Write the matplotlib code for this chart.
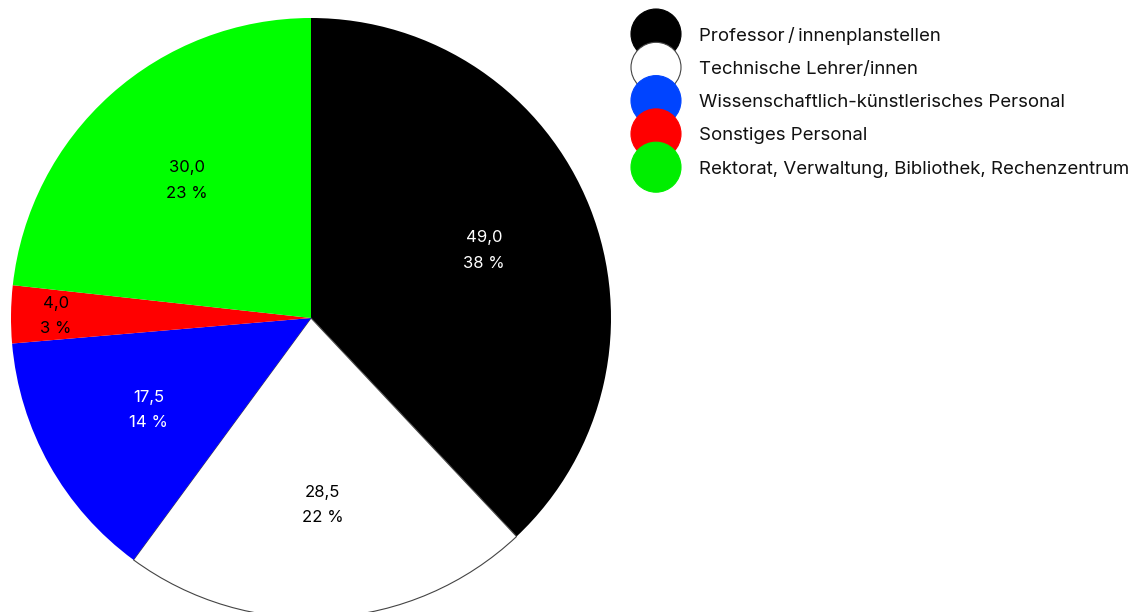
import numpy as np
import matplotlib
matplotlib.use("Agg")
import matplotlib.pyplot as plt
from matplotlib.patches import Circle

plt.rcParams["font.family"] = ["Inter", "DejaVu Sans"]

# data
categories = ["Professor\u2009/\u2009innenplanstellen", "Technische Lehrer/innen",
              "Wissenschaftlich-künstlerisches Personal", "Sonstiges Personal",
              "Rektorat, Verwaltung, Bibliothek, Rechenzentrum"]
values = [49.0, 28.5, 17.5, 4.0, 30.0]
value_labels = ["49,0", "28,5", "17,5", "4,0", "30,0"]
pct_labels = ["38 %", "22 %", "14 %", "3 %", "23 %"]
pie_colors = ["#000000", "#ffffff", "#0000ff", "#ff0000", "#00ff00"]
legend_colors = ["#000000", "#ffffff", "#0044ff", "#ff0000", "#00ee00"]
text_colors = ["white", "black", "white", "black", "black"]
label_dist = [0.62, 0.62, 0.62, 0.85, 0.62]

W, H = 1133, 612
fig = plt.figure(figsize=(W / 100, H / 100), dpi=100)
ax = fig.add_axes([0, 0, 1, 1])

cx, cy, r = 311, H - 318, 300
wedges, _ = ax.pie(values, colors=pie_colors, startangle=90,
                   counterclock=False, center=(cx, cy), radius=r,
                   frame=True, wedgeprops=dict(linewidth=0))
ax.set_xlim(0, W); ax.set_ylim(0, H)
ax.set_aspect("equal"); ax.axis("off")

for w, v, p, tc, d, c in zip(wedges, value_labels, pct_labels, text_colors,
                             label_dist, pie_colors):
    if c == "#ffffff":
        w.set_edgecolor("#444444"); w.set_linewidth(0.8)
    ang = np.deg2rad((w.theta1 + w.theta2) / 2)
    x, y = cx + d * r * np.cos(ang), cy + d * r * np.sin(ang)
    ax.text(x, y - 1, f"{v}\n{p}", ha="center", va="center", fontsize=12,
            color=tc, linespacing=1.85)

# legend with big overlapping dots
lx, ly0, step, lr = 656, H - 34, 33.3, 25
for i, (name, c) in enumerate(zip(categories, legend_colors)):
    y = ly0 - i * step
    ec = "#444444" if c == "#ffffff" else c
    ax.add_patch(Circle((lx, y), lr, facecolor=c, edgecolor=ec,
                        linewidth=0.8, zorder=5 + i))
    ax.text(699, y - 2, name, fontsize=13.4, va="center", ha="left",
            color="#111111", zorder=20)

fig.savefig("out.png", dpi=100)
